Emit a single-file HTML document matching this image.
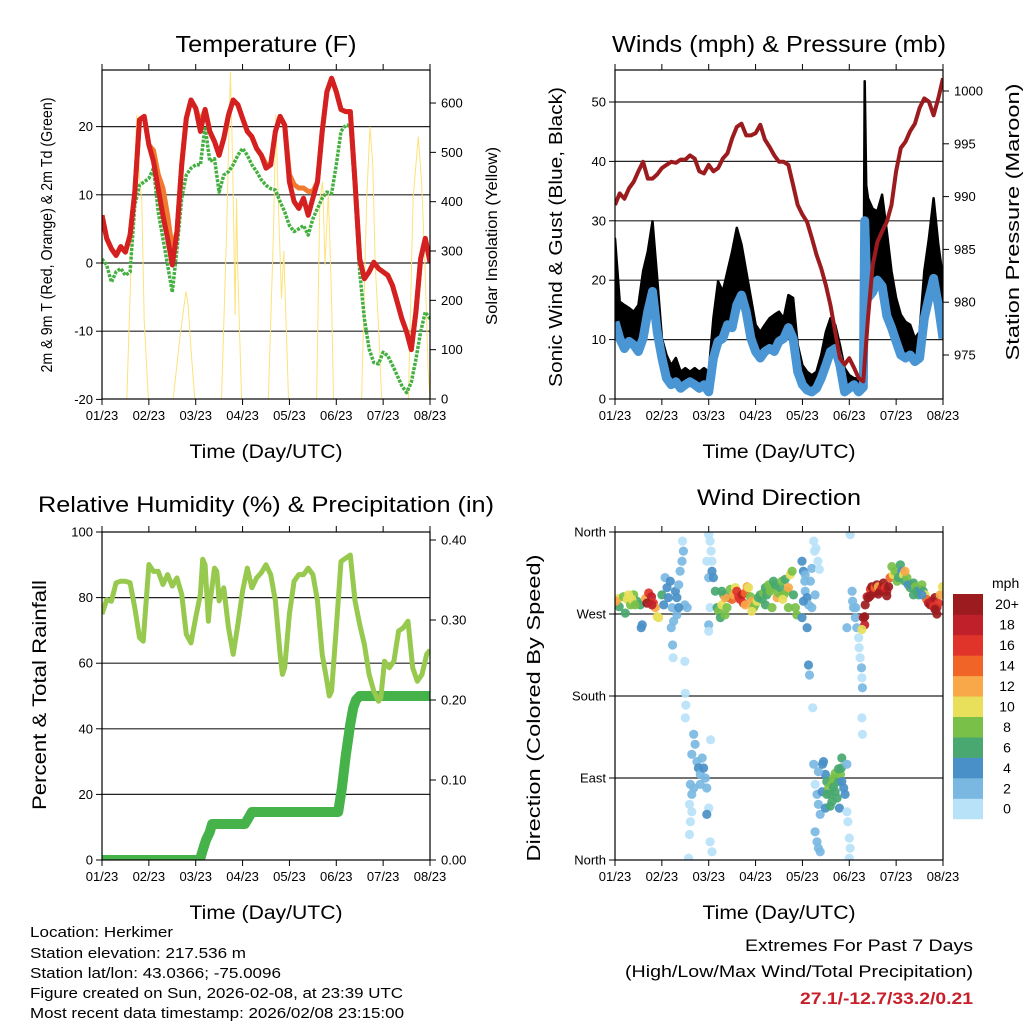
<!DOCTYPE html>
<html><head><meta charset="utf-8"><title>Weather Station Meteogram</title>
<style>
html,body{margin:0;padding:0;background:#fff;}
svg{display:block;font-family:"Liberation Sans",Arial,sans-serif;}
</style></head>
<body>
<svg id="chart" width="1024" height="1024" viewBox="0 0 1024 1024" xmlns="http://www.w3.org/2000/svg">
<rect x="0" y="0" width="1024" height="1024" fill="#fff"/>
<defs>
<clipPath id="c1"><rect x="102" y="70" width="328" height="329"/></clipPath>
<clipPath id="c2"><rect x="615" y="70" width="328" height="329"/></clipPath>
<clipPath id="c3"><rect x="102" y="532" width="328" height="328"/></clipPath>
<clipPath id="c4"><rect x="615" y="532" width="328" height="328"/></clipPath>
</defs>
<text x="266" y="52" font-size="23" text-anchor="middle" textLength="181" lengthAdjust="spacingAndGlyphs">Temperature (F)</text>
<text x="779" y="52" font-size="23" text-anchor="middle" textLength="334" lengthAdjust="spacingAndGlyphs">Winds (mph) &amp; Pressure (mb)</text>
<text x="266" y="512" font-size="22" text-anchor="middle" textLength="456" lengthAdjust="spacingAndGlyphs">Relative Humidity (%) &amp; Precipitation (in)</text>
<text x="779" y="505" font-size="22" text-anchor="middle" textLength="164" lengthAdjust="spacingAndGlyphs">Wind Direction</text>
<text x="266" y="458" font-size="19" text-anchor="middle" textLength="153" lengthAdjust="spacingAndGlyphs">Time (Day/UTC)</text>
<text x="779" y="458" font-size="19" text-anchor="middle" textLength="153" lengthAdjust="spacingAndGlyphs">Time (Day/UTC)</text>
<text x="266" y="919" font-size="19" text-anchor="middle" textLength="153" lengthAdjust="spacingAndGlyphs">Time (Day/UTC)</text>
<text x="779" y="919" font-size="19" text-anchor="middle" textLength="153" lengthAdjust="spacingAndGlyphs">Time (Day/UTC)</text>
<text transform="translate(52,235) rotate(-90)" font-size="16" text-anchor="middle" textLength="275" lengthAdjust="spacingAndGlyphs">2m &amp; 9m T (Red, Orange) &amp; 2m Td (Green)</text>
<text transform="translate(497,236) rotate(-90)" font-size="16" text-anchor="middle" textLength="178" lengthAdjust="spacingAndGlyphs">Solar Insolation (Yellow)</text>
<text transform="translate(562,237) rotate(-90)" font-size="18" text-anchor="middle" textLength="300" lengthAdjust="spacingAndGlyphs">Sonic Wind &amp; Gust (Blue, Black)</text>
<text transform="translate(1019,222) rotate(-90)" font-size="18" text-anchor="middle" textLength="277" lengthAdjust="spacingAndGlyphs">Station Pressure (Maroon)</text>
<text transform="translate(46,695) rotate(-90)" font-size="19" text-anchor="middle" textLength="230" lengthAdjust="spacingAndGlyphs">Percent &amp; Total Rainfall</text>
<text transform="translate(540,708) rotate(-90)" font-size="18" text-anchor="middle" textLength="307" lengthAdjust="spacingAndGlyphs">Direction (Colored By Speed)</text>
<g font-size="15">
<text x="30" y="937" textLength="143" lengthAdjust="spacingAndGlyphs">Location: Herkimer</text>
<text x="30" y="958" textLength="216" lengthAdjust="spacingAndGlyphs">Station elevation: 217.536 m</text>
<text x="30" y="978" textLength="251" lengthAdjust="spacingAndGlyphs">Station lat/lon: 43.0366; -75.0096</text>
<text x="30" y="998" textLength="373" lengthAdjust="spacingAndGlyphs">Figure created on Sun, 2026-02-08, at 23:39 UTC</text>
<text x="30" y="1018" textLength="374" lengthAdjust="spacingAndGlyphs">Most recent data timestamp: 2026/02/08 23:15:00</text>
</g>
<text x="973" y="951" font-size="17" text-anchor="end" textLength="228" lengthAdjust="spacingAndGlyphs">Extremes For Past 7 Days</text>
<text x="973" y="977" font-size="17" text-anchor="end" textLength="348" lengthAdjust="spacingAndGlyphs">(High/Low/Max Wind/Total Precipitation)</text>
<text x="973" y="1004" font-size="17" font-weight="bold" fill="#c8202a" text-anchor="end" textLength="173" lengthAdjust="spacingAndGlyphs">27.1/-12.7/33.2/0.21</text>
<text x="992" y="588" font-size="14">mph</text>
</svg>
<script>
// ---------- DATA ----------
const dayLabels = ['01/23','02/23','03/23','04/23','05/23','06/23','07/23','08/23'];
const gridDays = Array.from({length:71},(_,i)=>i/10);
const tempRed = [7.0,3.6,2.1,1.1,2.4,1.6,4.1,10.4,21,21.5, 17.3,14.9,10.9,7.0,3.6,-0.3,4.6,14.4,21.2,23.9, 22.7,19.3,22.5,19.3,17.8,15.8,18.3,21.7,23.9,23.2, 21.2,19.3,18.5,16.8,15.8,13.9,14.4,19.3,21.5,20.2, 11.9,9.0,8.0,9.5,7.0,9.5,11.9,19.3,25.1,27.1, 25.1,22.5,22.2,22.2,11.9,0.6,-2.3,-1.3,0.1,-0.8, -1.3,-1.8,-3.3,-5.7,-8.2,-10.1,-12.7,-7.2,0.6,3.6, 0.1];
const tempOrange = [7.0,3.6,2.1,1.1,2.4,1.6,4.1,10.4,21,21.5, 17.3,16.5,13,11,7,2,4.6,14.4,21.2,23.9, 22.7,20.5,22.5,19.3,17.8,15.8,18.3,21.7,23.9,23.2, 21.2,19.3,18.5,16.8,15.8,14.5,14.4,19.3,21.5,20.2, 13,11.5,11,11,10.5,10.5,11.9,19.3,25.1,27.1, 25.1,22.5,22.2,22.2,11.9,0.6,-2.3,-1.3,0.1,-0.8, -1.3,-1.8,-3.3,-5.7,-8.2,-10.1,-12.7,-7.2,0.6,3.6, 0.1];
const dewpoint = [0.6,-0.3,-2.8,-1.3,-0.8,-1.8,-1.3,8.5,11.4,11.9, 12.4,13.9,7.5,3.6,-0.3,-4.3,2.1,9.5,12.9,13.9, 14.4,14.4,20,14.9,15.3,10.4,12.9,13.4,14.4,15.8, 16.8,15.8,14.4,13.4,12.2,11.4,10.9,10.7,9.0,7.5, 5.5,4.6,5.0,5.5,4.1,6.5,8.0,9.5,10.4,10.2, 14.4,19.3,20.2,20.2,10.4,-1.3,-8.2,-12.6,-14.6,-14.8, -13.1,-13.6,-15.0,-16.5,-18.0,-19.0,-17.5,-14.1,-10.1,-7.2, -8.2];
const solarDays = [0,0.53,0.63,0.74,0.80,0.85,0.90,0.99, 1.52,1.66,1.79,1.84,1.90,1.98, 2.55,2.66,2.74,2.79,2.84,2.87,2.90,2.98, 3.55,3.66,3.71,3.76,3.83,3.88,3.98, 4.58,4.65,4.71,4.76,4.83,4.90,4.94, 5.54,5.65,5.72,5.78,5.83,5.90,5.97, 6.54,6.64,6.75,6.82,6.90,6.96,7.0];
const solarValues = [0,0,300,575,450,400,160,0, 0,123,218,190,100,0, 0,339,663,474,170,407,250,0, 0,339,576,407,204,300,0, 0,407,440,272,420,200,0, 0,407,552,474,272,150,0, 0,407,532,440,250,60,0];
const windDays = [0,0.1,0.2,0.3,0.4,0.5,0.6,0.7,0.8,0.9, 1.0,1.1,1.2,1.3,1.4,1.5,1.6,1.7,1.8,1.9, 2.0,2.1,2.2,2.3,2.4,2.5,2.6,2.7,2.8,2.9, 3.0,3.1,3.2,3.3,3.4,3.5,3.6,3.7,3.8,3.9, 4.0,4.1,4.2,4.3,4.4,4.5,4.6,4.7,4.8,4.9, 5.0,5.1,5.2,5.3,5.33,5.36,5.4,5.5,5.6,5.7,5.8,5.9, 6.0,6.1,6.2,6.3,6.4,6.5,6.6,6.7,6.8,6.9, 7.0];
const windMean = [13,10.2,8.5,9.7,9.1,8.0,10.2,14.7,18.1,11.3, 6.9,3.5,2.4,2.9,1.8,2.4,2.9,2.4,1.8,2.4, 1.2,6.9,9.7,10.2,12.5,12.0,15.8,17.5,14.7,10.2, 8.0,6.9,8.0,8.5,8.0,9.7,10.2,12.0,10.2,4.6, 2.4,1.5,1.2,1.8,3.5,5.7,8.0,8.5,5.7,1.2, 1.8,2.4,1.2,2.0,30,22,17.0,18,20,19,14,12, 9.7,7.4,6.9,7.4,6.3,6.9,13.6,17.0,20.3,15.8, 10.2];
const windGust = [27,16.4,15.8,15.3,14.7,15.8,21.5,24.8,29.9,20.3, 10.2,7.4,5.7,6.9,4.6,5.2,4.6,5.2,4.6,5.2, 4.6,13.6,19.8,18.1,21.5,24.8,28.8,26,21.5,17, 12.5,11.3,12.5,13.6,14.2,14.7,13.6,17.5,17,9.1, 5.7,4.6,4.0,4.6,7.4,11.3,13.6,12.5,9.1,5.2, 4.0,3.5,3.5,5,53.5,36,33.8,32,31.6,34.4,28.2,21.5, 17,14.2,13,12.5,10.2,11.3,21.5,27,33.8,26, 20.3];
const pressure = [989.2,990.3,989.8,990.8,991.4,992.4,993.3,991.7,991.7,992.1, 992.7,993.0,993.3,993.2,993.5,993.5,993.9,993.6,992.4,992.2, 993.0,992.4,992.7,993.6,994.1,995.5,996.6,996.9,995.8,995.8, 996.0,996.8,995.4,994.7,993.9,993.3,993.3,993.0,991.1,989.2, 988.3,987.6,986.1,984.5,983.2,981.6,979.7,977.2,974.7,974.1, 974.7,973.8,972.8,972.5,978.5,983.5,985.7,986.7,987.6,989.2, 992.4,994.6,995.2,996.2,996.9,998.4,999.3,999.0,997.7,999.3, 1001.2];
const rhDays = [0,.10,.20,.30,.40,.50,.60,.70,.80,.88, 1.0,1.10,1.20,1.30,1.40,1.50,1.60,1.70,1.80,1.90, 2.0,2.10,2.15,2.20,2.27,2.30,2.40,2.45,2.50,2.60,2.70,2.80,2.90, 3.0,3.10,3.20,3.30,3.40,3.50,3.60,3.70,3.80,3.85,3.90, 4.0,4.10,4.20,4.30,4.40,4.50,4.60,4.70,4.80,4.85,4.90, 5.0,5.10,5.20,5.30,5.40,5.50,5.60,5.70,5.80,5.90,5.95, 6.03,6.13,6.23,6.33,6.43,6.53,6.63,6.73,6.83,6.93,7.0];
const rhValues = [74.9,79.4,78.9,84.5,85,85,84.5,76.9,67.8,66.7, 90.1,88,88,84,87,83.5,86,81,68.8,66.2, 73.9,81,91.7,90,72.8,78,89,88,79,83,70.8,62.7,71.8, 82,89,83,86,87.6,90,87,79,62.7,56.6,58.6, 75,85,87,87,89,87,79,62.7,54.5,50,51.5, 70.8,91,92,93,79,71.8,65.7,56.6,51.5,48.4,49.4, 60.6,58.6,60.6,69.8,70.8,72.8,58.6,54.5,56.6,62.7,64];
const precipDays = [0,2.09,2.15,2.22,2.3,2.35,3.05,3.12,3.2,5.04,5.12,5.2,5.3,5.36,5.42,5.5,7.0];
const precipValues = [0,0,0.012,0.025,0.035,0.045,0.045,0.052,0.06,0.06,0.09,0.13,0.17,0.19,0.2,0.205,0.205];
const dirDays = [
 0.0,.08,.18,.26,.33,.40,.47,.54,.58,.56,.65,.72,.78,.82,.86,.90,.93,.09,.22,.36,.43,.29,.02,.68,.79,
 1.00,1.04,1.11,1.14,1.22,1.29,1.36,1.39,1.43,1.46,1.44,1.49,1.54,1.25,1.32,1.20,1.23,1.24,1.49,1.07,1.18,1.32,1.36,
 1.50,1.51,1.50,1.68,1.71,1.64,1.75,1.78,1.82,1.86,1.89,1.93,1.61,1.64,1.68,1.96,2.00,1.59,1.64,1.61,1.59,1.57,2.03,2.07,1.96,2.04,1.82,
 2.00,2.03,2.05,2.07,1.96,2.00,2.07,2.10,2.03,2.00,2.00,
 2.14,2.18,2.21,2.25,2.28,2.32,2.35,2.39,2.42,2.46,2.50,2.53,2.57,2.60,2.64,2.67,2.71,2.74,2.78,2.82,2.85,2.89,2.92,2.96,2.99,3.03,3.06,3.10,3.14,3.17,3.21,3.24,3.28,3.31,3.35,3.38,3.42,3.46,3.49,3.53,3.56,3.60,3.63,3.67,3.70,3.74,3.78,3.81,3.85,3.88,3.21,3.35,2.78,2.92,2.35,2.28,3.58,3.70,
 3.99,4.02,4.05,4.06,4.10,4.13,4.17,4.20,4.24,4.26,4.29,4.33,4.36,4.20,4.27,3.99,4.10,4.13,4.15,4.22,4.02,4.06,
 4.24,4.27,4.31,4.34,4.38,4.42,4.45,4.49,4.52,4.56,4.59,4.63,4.66,4.70,4.74,4.77,4.81,4.83,4.84,4.88,4.91,4.79,4.63,4.52,4.95,4.97,5.00,5.02,5.00,4.27,4.31,4.34,4.38,4.95,4.34,4.49,4.59,4.84,4.43,4.70,4.66,4.77,
 5.02,5.06,5.07,5.09,5.13,5.16,5.20,5.21,5.23,5.26,5.27,5.28,5.27,5.28,4.95,5.14,5.01,
 5.30,5.33,5.34,5.38,5.41,5.45,5.48,5.52,5.55,5.59,5.62,5.66,5.70,5.73,5.77,5.80,5.84,5.87,5.91,5.94,5.98,6.02,6.05,6.09,6.12,6.16,6.19,6.23,6.26,6.30,6.33,6.37,6.41,6.44,6.48,6.52,6.55,6.58,6.62,6.65,6.69,6.73,6.76,6.80,6.83,6.87,6.90,6.94,6.99,5.27,5.33,6.37,6.55,6.19,5.45,5.62,5.80,6.87,6.83];
const dirDegrees = [
 282,287,289,286,280,291,284,280,258,255,287,293,289,282,277,267,266,278,271,286,280,291,284,282,280,
 291,280,299,288,277,295,302,317,328,339,350,280,277,262,269,255,236,222,218,310,306,288,277,
 183,170,156,138,127,116,108,101,94,112,101,90,83,72,79,79,57,61,53,42,28,2,20,9,50,132,83,
 357,350,339,328,328,310,317,310,277,258,251,
 295,277,273,266,280,291,269,277,288,297,286,291,299,295,289,286,291,282,293,300,299,289,284,277,280,284,288,291,286,293,299,291,302,295,299,306,302,288,293,299,306,291,308,295,299,313,317,291,277,269,280,277,280,273,288,295,286,277,
 328,317,306,295,288,280,306,320,350,339,342,328,319,277,291,266,255,214,203,167,284,313,
 105,83,72,61,50,75,108,94,86,79,72,83,90,75,68,86,94,101,112,79,72,57,64,72,53,42,24,13,2,31,20,13,9,105,97,57,59,86,105,95,80,100,
 357,295,284,277,266,255,244,233,222,211,200,189,156,138,255,277,360,
 266,258,280,289,288,297,300,293,299,302,300,295,299,304,299,295,300,310,322,313,317,306,310,324,317,313,306,310,302,299,302,304,300,295,291,297,302,295,291,286,282,280,284,278,288,277,282,291,300,253,267,291,291,317,290,292,290,270,275];
const dirSpeeds = [
 14,10,9,10,9,8,7,6,4,4,12,16,18,16,13,10,11,6,7,10,8,10,12,20,19,
 7,4,4,4,3,4,3,2,3,2,1,2,2,2,2,2,2,1,1,2,4,5,4,
 1,1,1,2,2,2,2,4,2,2,4,2,2,2,2,2,1,1,1,1,1,1,1,1,4,1,2,
 1,1,1,1,1,2,4,4,1,2,1,
 6,7,9,6,10,7,9,8,6,8,14,12,10,16,17,16,18,16,14,12,10,8,12,9,8,10,7,6,6,8,7,6,8,9,8,7,6,12,8,7,8,9,6,8,12,10,8,6,8,8,7,8,12,10,12,6,10,8,
 4,4,2,2,4,2,2,2,1,1,1,1,1,2,2,4,4,4,2,1,4,2,
 2,1,2,2,2,4,4,4,6,8,7,8,8,6,6,7,8,6,6,4,4,4,6,6,1,1,1,1,1,2,2,2,2,2,2,4,6,4,4,8,7,6,
 1,2,2,2,2,2,1,1,1,2,1,2,1,1,2,2,1,
 20,18,20,18,20,16,20,18,14,20,12,20,18,20,16,18,20,14,8,10,8,8,6,6,4,10,6,8,4,6,4,6,8,6,6,4,8,6,10,14,18,20,18,16,20,18,16,12,10,10,20,6,4,12,20,20,20,20,20];
const speedBinLabels = ['0','2','4','6','8','10','12','14','16','18','20+'];
const speedBinColors = ['#b8e2f8','#7ab8e2','#4a90c8','#48a870','#78c048','#e8e05a','#f8a848','#f06428','#e0342a','#c0202a','#9b1b1e'];
const tempTicks = [-20,-10,0,10,20];
const solarTicks = [0,100,200,300,400,500,600];
const windTicks = [0,10,20,30,40,50];
const pressTicks = [975,980,985,990,995,1000];
const rhTicks = [0,20,40,60,80,100];
const precipTicks = [0,0.1,0.2,0.3,0.4];
const dirTicks = [0,90,180,270,360];
const dirTickLabels = ['North','East','South','West','North'];

// ---------- SCALES ----------
const P1={x0:102,x1:430,y0:70,y1:399}, P2={x0:615,x1:943,y0:70,y1:399};
const P3={x0:102,x1:430,y0:532,y1:860}, P4={x0:615,x1:943,y0:532,y1:860};
const xDay=(p,t)=>p.x0+t/7*(p.x1-p.x0);
const yTemp=v=>263-v*6.82;
const ySolar=v=>399-v*0.4933;
const yWind=v=>399-v*5.94;
const yPress=v=>91+(1000-v)*10.56;
const yRH=v=>860-v*3.28;
const yPrecip=v=>860-v*800;
const yDir=v=>860-v*328/360;

const NS='http://www.w3.org/2000/svg';
const svg=document.getElementById('chart');
function mk(tag,attrs,parent){const e=document.createElementNS(NS,tag);for(const k in attrs)e.setAttribute(k,attrs[k]);(parent||svg).appendChild(e);return e;}
function ptsStr(p,days,vals,yf){return days.map((t,i)=>xDay(p,t).toFixed(1)+','+yf(vals[i]).toFixed(1)).join(' ');}

function panelAxes(p,name,leftTicks,leftLabels,yL,rightTicks,rightLabels,yR){
  const g=mk('g',{});
  
  
  leftTicks.forEach((v,i)=>{
    const y=yL(v);
    if(y>p.y0+1&&y<p.y1-1){
      const gl=mk('line',{x1:p.x0,x2:p.x1,y1:y,y2:y,stroke:'#222','stroke-width':1.2},g);
      
      
    }
    const tk=mk('line',{x1:p.x0-6,x2:p.x0,y1:y,y2:y,stroke:'#000','stroke-width':1},g);
    
    
    const tx=mk('text',{x:p.x0-9,y:y+4.5,'font-size':13,'text-anchor':'end'},g);
    tx.textContent=leftLabels[i];
    
    
  });
  if(rightTicks){
    rightTicks.forEach((v,i)=>{
      const y=yR(v);
      const tk=mk('line',{x1:p.x1,x2:p.x1+6,y1:y,y2:y,stroke:'#000','stroke-width':1},g);
      
      
      const tx=mk('text',{x:p.x1+11,y:y+4.5,'font-size':13,'text-anchor':'start'},g);
      tx.textContent=rightLabels[i];
      
      
    });
  }
  dayLabels.forEach((lab,i)=>{
    const x=xDay(p,i);
    mk('line',{x1:x,x2:x,y1:p.y1,y2:p.y1+6,stroke:'#000','stroke-width':1},g);
    mk('line',{x1:x,x2:x,y1:p.y0-6,y2:p.y0,stroke:'#000','stroke-width':1},g);
    const tx=mk('text',{x:x,y:p.y1+21,'font-size':13,'text-anchor':'middle'},g);
    tx.textContent=lab;
    
    
  });
  return g;
}
function frame(p,name){
  const r=mk('rect',{x:p.x0,y:p.y0,width:p.x1-p.x0,height:p.y1-p.y0,fill:'none',stroke:'#000','stroke-width':1.2});
  
  
}

// ----- Panel 1 -----
panelAxes(P1,'temperature',tempTicks,tempTicks.map(String),yTemp,solarTicks,solarTicks.map(String),ySolar);
const g1=mk('g',{'clip-path':'url(#c1)'});


const solar=mk('polyline',{points:ptsStr(P1,solarDays,solarValues,ySolar),fill:'none',stroke:'#fde27a','stroke-width':1},g1);


const dew=mk('polyline',{points:ptsStr(P1,gridDays,dewpoint,yTemp),fill:'none',stroke:'#44b040','stroke-width':3.5,'stroke-dasharray':'3 1.3','stroke-linejoin':'round'},g1);


const orange=mk('polyline',{points:ptsStr(P1,gridDays,tempOrange,yTemp),fill:'none',stroke:'#f07a30','stroke-width':5,'stroke-linejoin':'round'},g1);


const red=mk('polyline',{points:ptsStr(P1,gridDays,tempRed,yTemp),fill:'none',stroke:'#d42020','stroke-width':5,'stroke-linejoin':'round'},g1);


frame(P1,'temperature');

// ----- Panel 2 -----
panelAxes(P2,'winds',windTicks,windTicks.map(String),yWind,pressTicks,pressTicks.map(String),yPress);
const g2=mk('g',{'clip-path':'url(#c2)'});


const upper=windDays.map((t,i)=>xDay(P2,t).toFixed(1)+','+yWind(windGust[i]).toFixed(1));
const lower=windDays.map((t,i)=>xDay(P2,t).toFixed(1)+','+yWind(windMean[i]).toFixed(1)).reverse();
const gustBand=mk('polygon',{points:upper.concat(lower).join(' '),fill:'#000',stroke:'#000','stroke-width':2.5,'stroke-linejoin':'round'},g2);


const blue=mk('polyline',{points:ptsStr(P2,windDays,windMean,yWind),fill:'none',stroke:'#4a96d4','stroke-width':9,'stroke-linejoin':'round'},g2);


const press=mk('polyline',{points:ptsStr(P2,gridDays,pressure,yPress),fill:'none',stroke:'#9b1b1e','stroke-width':4,'stroke-linejoin':'round'},g2);


frame(P2,'winds');

// ----- Panel 3 -----
panelAxes(P3,'humidity',rhTicks,rhTicks.map(String),yRH,precipTicks,precipTicks.map(v=>v.toFixed(2)),yPrecip);
const g3=mk('g',{'clip-path':'url(#c3)'});


const pr=mk('polyline',{points:ptsStr(P3,precipDays,precipValues,yPrecip),fill:'none',stroke:'#46b34a','stroke-width':10,'stroke-linejoin':'round','stroke-linecap':'round'},g3);


const rh=mk('polyline',{points:ptsStr(P3,rhDays,rhValues,yRH),fill:'none',stroke:'#96c94e','stroke-width':5,'stroke-linejoin':'round'},g3);


frame(P3,'humidity');

// ----- Panel 4 -----
panelAxes(P4,'direction',dirTicks,dirTickLabels,yDir,null,null,null);
const g4=mk('g',{'clip-path':'url(#c4)'});


const nPts=Math.min(dirDays.length,dirDegrees.length,dirSpeeds.length);
for(let i=0;i<nPts;i++){
  const bin=Math.min(10,Math.floor(dirSpeeds[i]/2));
  const c=mk('circle',{cx:xDay(P4,dirDays[i]).toFixed(1),cy:yDir(dirDegrees[i]).toFixed(1),r:4.6,fill:speedBinColors[bin],'fill-opacity':0.92},g4);
  
  
}
frame(P4,'direction');

// ----- Colorbar -----
const cb=mk('g',{});


const cbTop=594, cbH=20.45;
speedBinColors.forEach((col,i)=>{
  const k=speedBinColors.length-1-i;
  const r=mk('rect',{x:953,y:(cbTop+k*cbH).toFixed(2),width:30,height:(cbH+0.3).toFixed(2),fill:col},cb);
  
  
  const t=mk('text',{x:1007,y:(cbTop+k*cbH+cbH/2+5).toFixed(1),'font-size':14,'text-anchor':'middle'},cb);
  t.textContent=speedBinLabels[i];
  
  
});
</script>
</body></html>
